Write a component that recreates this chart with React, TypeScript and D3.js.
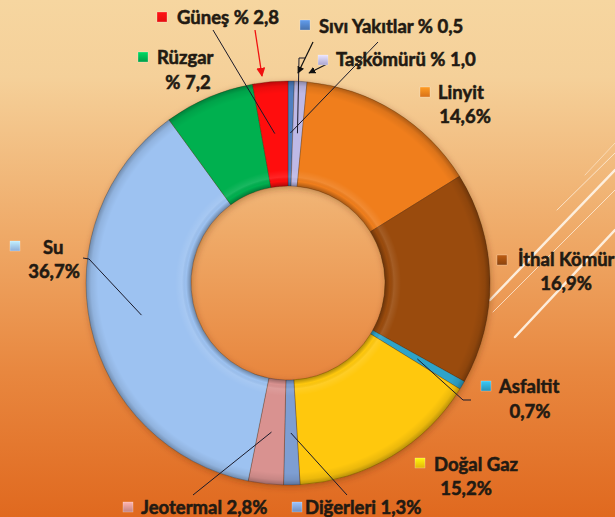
import React from "react";
import * as d3 from "d3";

const categories = ["Sıvı Yakıtlar", "Taşkömürü", "Linyit", "İthal Kömür", "Asfaltit", "Doğal Gaz", "Diğerleri", "Jeotermal", "Su", "Rüzgar", "Güneş"];
const values = [0.5, 1.0, 14.6, 16.9, 0.7, 15.2, 1.3, 2.8, 36.7, 7.2, 2.8];
const valueLabels = ["% 0,5", "% 1,0", "14,6%", "16,9%", "0,7%", "15,2%", "1,3%", "2,8%", "36,7%", "% 7,2", "% 2,8"];
const colors = ["#4F7FC0", "#BEB9E6", "#F07E1C", "#9A4B0E", "#2FA3C9", "#FFC80A", "#7E9ED2", "#D99290", "#9DC2F1", "#00B050", "#FF1010"];

type Lay = { sx: number; sy: number; tx: number; ty: number; oneLine: boolean; tx2?: number; ty2?: number; anchor?: [number, number][] };
const layout: Lay[] = [
  { sx: 300, sy: 20, tx: 319, ty: 33, oneLine: true, anchor: [[378, 42]] },
  { sx: 318, sy: 55, tx: 336, ty: 66, oneLine: true, anchor: [[305, 58], [299, 58]] },
  { sx: 420, sy: 87, tx: 438, ty: 99, oneLine: false, tx2: 465, ty2: 123 },
  { sx: 497, sy: 255, tx: 518, ty: 266, oneLine: false, tx2: 566, ty2: 290 },
  { sx: 481, sy: 381, tx: 499, ty: 393, oneLine: false, tx2: 530, ty2: 418, anchor: [[471, 400], [463, 400]] },
  { sx: 415, sy: 458, tx: 434, ty: 471, oneLine: false, tx2: 466, ty2: 495 },
  { sx: 292, sy: 502, tx: 305, ty: 514, oneLine: true, anchor: [[347, 495]] },
  { sx: 123, sy: 502, tx: 141, ty: 514, oneLine: true, anchor: [[193, 495]] },
  { sx: 10, sy: 241, tx: 43, ty: 254, oneLine: false, tx2: 54, ty2: 278, anchor: [[83, 258], [89, 259]] },
  { sx: 138, sy: 52, tx: 157, ty: 64, oneLine: false, tx2: 188, ty2: 89 },
  { sx: 157, sy: 12, tx: 177, ty: 24, oneLine: true, anchor: [[213, 30]] },
];

const W = 615, H = 517;
const cx = 288, cy = 283, rOut = 202, rIn = 97;

export default function App() {
  const pie = d3.pie<number>().sort(null).value((d) => d).startAngle(0).endAngle(2 * Math.PI);
  const arcs = pie(values);
  const arc = d3.arc<d3.PieArcDatum<number>>().innerRadius(rIn).outerRadius(rOut);
  const midArc = d3.arc<d3.PieArcDatum<number>>().innerRadius(150).outerRadius(150);
  const font = "Lato, 'Liberation Sans', sans-serif";
  const textColor = "#221A12";
  const line = d3.line();

  return (
    <svg width={W} height={H} style={{ position: "absolute", left: 0, top: 0 }}>
      <defs>
        <linearGradient id="bg" x1="0" y1="0" x2="0" y2="1">
          <stop offset="0" stopColor="#F6D6A0" />
          <stop offset="0.15" stopColor="#F5D099" />
          <stop offset="0.45" stopColor="#EFAA68" />
          <stop offset="0.72" stopColor="#E8873F" />
          <stop offset="1" stopColor="#E0691F" />
        </linearGradient>
        <radialGradient id="bevel" gradientUnits="userSpaceOnUse" cx={0} cy={0} r={rOut}>
          <stop offset={rIn / rOut} stopColor="#000" stopOpacity="0.3" />
          <stop offset={(rIn + 5) / rOut} stopColor="#000" stopOpacity="0" />
          <stop offset={(rIn + 9) / rOut} stopColor="#fff" stopOpacity="0.1" />
          <stop offset={(rIn + 16) / rOut} stopColor="#fff" stopOpacity="0" />
          <stop offset="0.94" stopColor="#000" stopOpacity="0" />
          <stop offset="0.975" stopColor="#000" stopOpacity="0.08" />
          <stop offset="1" stopColor="#000" stopOpacity="0.28" />
        </radialGradient>
        <filter id="shadow" x="-20%" y="-20%" width="140%" height="140%">
          <feDropShadow dx="1" dy="2" stdDeviation="3" floodColor="#5a2a00" floodOpacity="0.35" />
        </filter>
        <marker id="arrRed" viewBox="0 0 10 10" refX="9" refY="5" markerWidth="7" markerHeight="7" orient="auto">
          <path d="M0,0 L10,5 L0,10 z" fill="#F01010" />
        </marker>
        <marker id="arrBlk" viewBox="0 0 10 10" refX="9" refY="5" markerWidth="6" markerHeight="6" orient="auto">
          <path d="M0,0 L10,5 L0,10 z" fill="#111" />
        </marker>
        {colors.map((c, i) => (
          <linearGradient key={i} id={`sq${i}`} x1="0" y1="0" x2="0" y2="1">
            <stop offset="0" stopColor={d3.color(c)!.brighter(0.6).formatHex()} />
            <stop offset="1" stopColor={d3.color(c)!.darker(0.3).formatHex()} />
          </linearGradient>
        ))}
      </defs>
      <rect x={0} y={0} width={W} height={H} fill="url(#bg)" />
      <g stroke="#FFF6EA" strokeLinecap="round">
        <line x1={557} y1={210} x2={615} y2={153} strokeWidth={1} opacity={0.7} />
        <line x1={490} y1={300} x2={615} y2={170} strokeWidth={2.5} opacity={0.9} />
        <line x1={493} y1={312} x2={615} y2={190} strokeWidth={1} opacity={0.7} />
        <line x1={515} y1={337} x2={615} y2={230} strokeWidth={2.5} opacity={0.9} />
        <line x1={585} y1={175} x2={615} y2={143} strokeWidth={1} opacity={0.5} />
      </g>
      <g transform={`translate(${cx},${cy})`} filter="url(#shadow)">
        {arcs.map((a, i) => (
          <path key={i} d={arc(a)!} fill={colors[i]} stroke="rgba(60,30,0,0.35)" strokeWidth={0.8} />
        ))}
      </g>
      <g transform={`translate(${cx},${cy})`}>
        {arcs.map((a, i) => (
          <path key={i} d={arc(a)!} fill="url(#bevel)" />
        ))}
      </g>
      <g fill="none" stroke="#1a1a2a" strokeWidth={1}>
        {arcs.map((a, i) => {
          const anc = layout[i].anchor;
          if (!anc) return null;
          const [mx, my] = midArc.centroid(a);
          const pts: [number, number][] = [...anc, [mx + cx, my + cy]];
          return <path key={i} d={line(pts)!} />;
        })}
      </g>
      <line x1={255} y1={30} x2={262} y2={76} stroke="#F01010" strokeWidth={1.3} markerEnd="url(#arrRed)" />
      <line x1={313} y1={42} x2={298} y2={73} stroke="#111" strokeWidth={1.2} markerEnd="url(#arrBlk)" />
      <line x1={327} y1={64} x2={309} y2={73} stroke="#111" strokeWidth={1.2} markerEnd="url(#arrBlk)" />
      <g fontFamily={font} fontWeight={700} fontSize={18.5} fill={textColor} stroke={textColor} strokeWidth={0.55}>
        {categories.map((c, i) => {
          const L = layout[i];
          return (
            <g key={i}>
              <rect x={L.sx} y={L.sy} width={10} height={10} fill={`url(#sq${i})`} stroke="rgba(255,255,255,0.5)" strokeWidth={0.5} />
              {L.oneLine ? (
                <text x={L.tx} y={L.ty}>{`${c} ${valueLabels[i]}`}</text>
              ) : (
                <>
                  <text x={L.tx} y={L.ty}>{c}</text>
                  <text x={L.tx2} y={L.ty2} textAnchor="middle">{valueLabels[i]}</text>
                </>
              )}
            </g>
          );
        })}
      </g>
    </svg>
  );
}
